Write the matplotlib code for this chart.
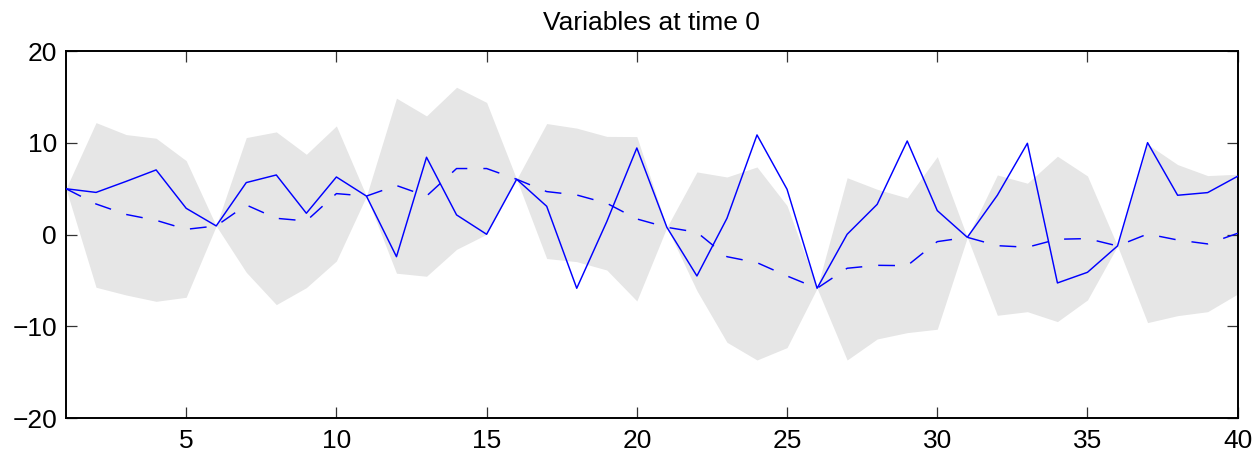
import matplotlib
matplotlib.use("Agg")
import matplotlib.pyplot as plt
import numpy as np

x = list(range(1, 41))
solid = [5.0, 4.6, 5.8, 7.05, 2.87, 0.95, 5.67, 6.5, 2.33, 6.28,
         4.2, -2.4, 8.43, 2.15, 0.04, 6.03, 3.09, -5.84, 1.42, 9.44,
         0.8, -4.5, 1.78, 10.86, 4.94, -5.84, 0.04, 3.3, 10.2, 2.62,
         -0.29, 4.29, 9.95, -5.26, -4.1, -1.23, 10.02, 4.29, 4.58, 6.36]
dashed = [5.0, 3.34, 2.2, 1.56, 0.58, 0.95, 3.23, 1.78, 1.49, 4.47,
          4.2, 5.35, 4.2, 7.2, 7.2, 6.03, 4.69, 4.32, 3.42, 1.71,
          0.8, 0.26, -2.4, -3.05, -4.5, -5.84, -3.66, -3.34, -3.38, -0.76,
          -0.29, -1.2, -1.37, -0.5, -0.43, -1.23, 0.07, -0.58, -1.01, 0.15]
upper = [5.0, 12.2, 10.9, 10.5, 8.06, 0.95, 10.57, 11.19, 8.75, 11.84,
         4.2, 14.86, 12.93, 16.05, 14.4, 6.03, 12.1, 11.6, 10.7, 10.68,
         0.8, 6.83, 6.28, 7.37, 3.16, -5.84, 6.2, 4.94, 4.0, 8.5,
         -0.29, 6.5, 5.6, 8.54, 6.39, -1.23, 9.85, 7.63, 6.43, 6.58]
lower = [5.0, -5.73, -6.57, -7.26, -6.82, 0.95, -4.1, -7.62, -5.77, -2.87,
         4.2, -4.2, -4.53, -1.6, 0.04, 6.03, -2.6, -2.94, -3.85, -7.22,
         0.8, -6.1, -11.72, -13.65, -12.3, -5.84, -13.65, -11.36, -10.67, -10.3,
         -0.29, -8.78, -8.39, -9.47, -7.11, -1.23, -9.58, -8.82, -8.39, -6.46]
title = "Variables at time 0"
xticks = [5, 10, 15, 20, 25, 30, 35, 40]
yticks = [-20, -10, 0, 10, 20]

plt.rcParams['font.family'] = ['Liberation Sans', 'DejaVu Sans']
fig = plt.figure(figsize=(12.53, 4.54), dpi=100)
ax = fig.add_axes([66/1253, 1 - 418.3/454, (1237.7 - 66)/1253, (418.3 - 51)/454])

ax.fill_between(x, lower, upper, color='#e6e6e6', linewidth=0, zorder=1)
ax.plot(x, solid, color='#0000ff', lw=1.05, zorder=3)
ax.plot(x, dashed, color='#0000ff', lw=1.05, ls=(0, (11.5, 11.0)), zorder=3)

ax.set_xlim(1, 40)
ax.set_ylim(-20, 20)
ax.set_xticks(xticks)
ax.set_yticks(yticks)
ax.set_xticklabels([str(v) for v in xticks])
ax.set_yticklabels([str(v).replace('-', '\u2212') for v in yticks])
ax.tick_params(direction='in', length=8, width=0.9, color='#333333',
               top=True, right=True, labelsize=19)
ax.tick_params(axis='x', pad=8)
ax.tick_params(axis='y', pad=6.5)
for s in ax.spines.values():
    s.set_linewidth(1.4)
ax.set_title(title, fontsize=19, pad=15)

fig.savefig("out.png", dpi=100)
